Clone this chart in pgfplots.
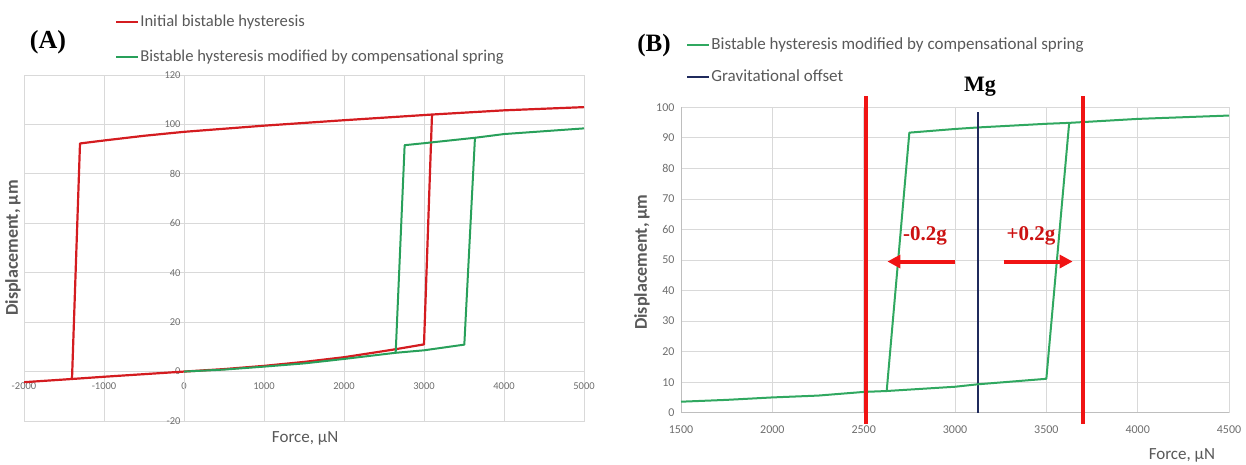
\documentclass[border=0pt]{standalone}
\usepackage{fontspec}
\setmainfont{Carlito}
\newfontfamily\tnr{Liberation Serif}
\usepackage{pgfplots}
\pgfplotsset{compat=1.18}
\usetikzlibrary{arrows.meta}

\definecolor{hred}{RGB}{212,28,32}
\definecolor{hgreen}{RGB}{40,160,90}
\definecolor{bgreen}{RGB}{48,168,96}
\definecolor{navy}{RGB}{31,42,92}
\definecolor{vred}{RGB}{240,20,20}
\definecolor{txtgray}{RGB}{89,89,89}
\definecolor{tickgray}{RGB}{110,110,110}
\definecolor{gridgray}{RGB}{217,217,217}

\pgfplotsset{
  excel/.style={
    scale only axis,
    grid=major,
    major grid style={draw=gridgray, line width=0.8pt},
    major tick length=0pt,
    axis line style={draw=gridgray!70!gray, line width=0.8pt, -},
    /pgf/number format/assume math mode=true,
    /pgf/number format/1000 sep={},
    tick label style={font=\fontsize{10.5}{12}\selectfont, text=tickgray},
    legend cell align=left,
    legend image code/.code={\draw[#1] (0pt,0pt) -- (22pt,0pt);},
  }
}

\begin{document}
\begin{tikzpicture}
\useasboundingbox (0,0) rectangle (1246pt,465pt);

% ---- panel A (tick labels moved onto the zero lines)
\begin{axis}[excel,
  at={(24pt,44pt)}, anchor=south west,
  width=560pt, height=346pt,
  xmin=-2000, xmax=5000, ymin=-20, ymax=120,
  xtick={-2000,-1000,...,5000}, ytick={-20,0,...,120},
  axis line style={draw=gridgray},
  extra x ticks={0}, extra x tick labels={},
  extra x tick style={grid style={draw=gridgray!70!gray}},
  extra y ticks={0}, extra y tick labels={},
  extra y tick style={grid style={draw=gridgray!70!gray}},
  xticklabel style={yshift=41.4pt},
  yticklabel style={xshift=160pt},
  xlabel={Force, µN}, ylabel={Displacement, µm},
  every axis x label/.style={at={(rel axis cs:0.502,-0.049)}, anchor=center,
    font=\fontsize{17}{20}\selectfont, text=txtgray},
  every axis y label/.style={at={(rel axis cs:-0.0196,0.5)}, anchor=center, rotate=90,
    font=\bfseries\fontsize{18}{21}\selectfont, text=txtgray},
  legend style={at={(0.157,1.185)}, anchor=north west, draw=none, fill=none,
    font=\fontsize{16.6}{19}\selectfont, text=txtgray, row sep=17pt,
    nodes={text height=12pt, text depth=4pt, inner sep=1pt}},
]
\addplot[hred, line width=2.2pt, line join=round] coordinates {
  (5000,107) (4000,105.7) (3100,104) (2000,101.7) (1000,99.5) (0,97)
  (-500,95.4) (-1000,93.5) (-1300,92.3) (-1400,-3.0) (-2000,-4.3)
};
\addplot[hred, line width=2.2pt, line join=round, forget plot] coordinates {
  (-1400,-3.0) (-1000,-2.1) (0,0) (500,1.0) (1000,2.3) (1500,3.9) (2000,5.8)
  (2600,8.8) (3000,11) (3100,104)
};
\addplot[hgreen, line width=2pt, line join=round] coordinates {
  (0,0) (500,0.8) (1000,2.0) (1500,3.3) (2000,5.1) (2646,7.6) (2758,91.6)
  (3000,92.4) (3637,94.6) (4000,96.1) (5000,98.4)
};
\addplot[hgreen, line width=2pt, line join=round, forget plot] coordinates {
  (3637,94.6) (3504,10.9) (3000,8.6) (2646,7.6)
};
\legend{Initial bistable hysteresis, Bistable hysteresis modified by compensational spring}
\end{axis}

% ---- panel B
\begin{axis}[excel,
  at={(681pt,52.3pt)}, anchor=south west,
  width=548pt, height=305.4pt,
  xmin=1500, xmax=4500, ymin=0, ymax=100,
  xtick={1500,2000,...,4500}, ytick={0,10,...,100},
  axis x line=bottom, axis y line=left,
  x axis line style={-}, y axis line style={-},
  clip=false,
  tick label style={font=\fontsize{12}{14}\selectfont},
  xticklabel style={yshift=-9pt},
  yticklabel style={xshift=-3pt},
  xlabel={Force, µN}, ylabel={Displacement, µm},
  every axis x label/.style={at={(rel axis cs:0.914,-0.1385)}, anchor=center,
    font=\fontsize{17}{20}\selectfont, text=txtgray},
  every axis y label/.style={at={(rel axis cs:-0.0712,0.493)}, anchor=center, rotate=90,
    font=\bfseries\fontsize{18}{21}\selectfont, text=txtgray},
  legend style={at={(0.004,1.24)}, anchor=north west, draw=none, fill=none,
    font=\fontsize{17}{20}\selectfont, text=txtgray, row sep=14pt,
    nodes={text height=12pt, text depth=4pt, inner sep=1pt}},
]
\addplot[bgreen, line width=2pt, line join=round] coordinates {
  (1500,3.6) (1750,4.2) (2000,5.0) (2250,5.6) (2500,6.8) (2626,7.1) (2750,91.7)
  (3000,92.9) (3125,93.4) (3500,94.6) (3625,94.9) (4000,96.2) (4500,97.3)
};
\addplot[navy, line width=1.6pt] coordinates {(3125,0) (3125,98.6)};
\addplot[bgreen, line width=2pt, line join=round, forget plot] coordinates {
  (3625,94.9) (3500,11.1) (3125,9.3) (3000,8.5) (2626,7.1)
};
\addplot[vred, line width=4pt, forget plot] coordinates {(2515,-3.7) (2515,103.7)};
\addplot[vred, line width=4pt, forget plot] coordinates {(3700,-3.7) (3700,103.7)};
\addplot[vred, line width=4pt, -{Triangle[length=13pt,width=13pt]}, forget plot]
  coordinates {(3000,49.5) (2630,49.5)};
\addplot[vred, line width=4pt, -{Triangle[length=13pt,width=13pt]}, forget plot]
  coordinates {(3268,49.5) (3644,49.5)};
\node[text=vred!85!black, font=\tnr\bfseries\fontsize{21}{24}\selectfont]
  at (axis cs:2836,57.8) {-0.2g};
\node[text=vred!85!black, font=\tnr\bfseries\fontsize{21}{24}\selectfont]
  at (axis cs:3416,57.8) {+0.2g};
\node[font=\tnr\bfseries\fontsize{22}{24}\selectfont] at (axis cs:3137,106.7) {Mg};
\legend{Bistable hysteresis modified by compensational spring, Gravitational offset}
\end{axis}

\node[font=\tnr\bfseries\fontsize{26}{28}\selectfont] at (48pt,423pt) {(A)};
\node[font=\tnr\bfseries\fontsize{25}{28}\selectfont] at (654pt,420pt) {(B)};
\end{tikzpicture}
\end{document}
